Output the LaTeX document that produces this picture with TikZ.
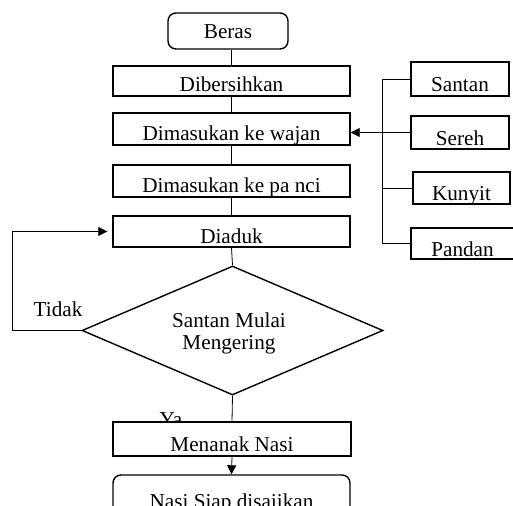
\documentclass[tikz,border=0pt]{standalone}
\usepackage{fontspec}
\setmainfont{Liberation Serif}
\usetikzlibrary{shapes.geometric, arrows.meta, positioning}
\newcommand{\fs}{\fontsize{10.6}{11}\selectfont}

\begin{document}
\begin{tikzpicture}[x=0.5pt, y=-0.5pt,
    box/.style = {draw, line width=0.7pt, inner sep=0pt, font=\fs, fill=white},
    midbox/.style = {box, minimum width=118.5pt},
    sidebox/.style = {box, minimum width=49pt},
    conn/.style = {line width=0.4pt},
    arr/.style = {conn, -{Triangle[length=4.5pt, width=4.5pt]}},
    lbl/.style = {font=\fs, inner sep=0pt, anchor=base}]
    \clip (0,0) rectangle (513,506);
    \coordinate (bus) at (382,0);
    % main column
    \node[box, rounded corners=4pt, minimum width=60pt, text height=13pt, text depth=5pt] (beras) at (228,31) {Beras};
    \node[midbox, text height=13pt, text depth=2pt] (dib) at (231.5,81) {Dibersihkan};
    \node[midbox, text height=14pt, text depth=2pt] (wajan) at (231.5,129) {Dimasukan ke wajan};
    \node[midbox, text height=14pt, text depth=2pt] (panci) at (231.5,181) {Dimasukan ke pa nci};
    \node[midbox, text height=14pt, text depth=1.5pt] (diaduk) at (231.5,231.5) {Diaduk};
    \node[draw, shape=diamond, line width=0.7pt, inner sep=0pt, minimum width=150.5pt, minimum height=64.5pt] (dec) at (232.5,330.5) {};
    \node[font=\fs, align=center, inner sep=0pt] (dectxt) at (229,333) {Santan Mulai\\Mengering};
    \node[lbl] (tidak) at (58,317) {Tidak};
    \node[lbl] (ya) at (171,427) {Ya};
    \node[midbox, minimum width=119pt, text height=15pt, text depth=2pt] (masak) at (232,439) {Menanak Nasi};
    \node[midbox, rounded corners=4pt, text height=17pt, text depth=5.5pt] (nasi) at (231.5,497.5) {Nasi Siap disajikan};
    % bahan
    \node[sidebox, text height=15pt, text depth=2pt] (santan) at (460,79) {Santan};
    \node[sidebox, text height=15pt, text depth=1.5pt] (sereh) at (460,132.5) {Sereh};
    \node[sidebox, minimum width=48.5pt, text height=14.5pt, text depth=1.5pt] (kunyit) at (461.5,188) {Kunyit};
    \node[sidebox, minimum width=51.5pt, text height=14.5pt, text depth=1pt] (pandan) at (462.5,243.5) {Pandan};

    \draw[conn] (beras.south -| dib.north) -- (dib.north);
    \draw[conn] (dib.south) -- (wajan.north);
    \draw[conn] (wajan.south) -- (panci.north);
    \draw[conn] (panci.south) -- (diaduk.north);
    \draw[conn] (diaduk.south) -- (dec.north);
    \draw[conn] (dec.south) -- (masak.north);
    \draw[arr] (masak.south) -- (nasi.north);
    \draw[arr, shorten >=2.5pt] (dec.west) -- (12,330.5) |- (diaduk.west);

    \draw[conn] (santan.west) -- (santan.west -| bus) -- (pandan.west -| bus) -- (pandan.west);
    \draw[conn] (kunyit.west -| bus) -- (kunyit.west);
    \draw[conn] (sereh.west) -- (sereh.west -| bus);
    \draw[arr] (sereh.west -| bus) -- (sereh.west -| wajan.east);
\end{tikzpicture}
\end{document}
